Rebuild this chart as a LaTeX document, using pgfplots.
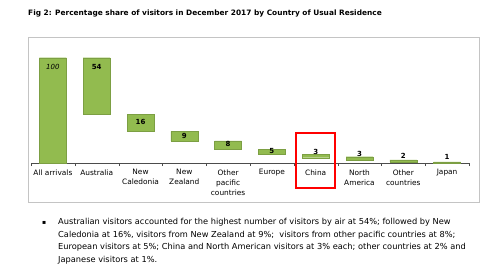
\documentclass[border=0pt]{standalone}
\usepackage{pgfplots}
\pgfplotsset{compat=1.18}
\usepackage{fontspec}
\setmainfont{DejaVu Sans}
\definecolor{barg}{HTML}{92BB4F}
\definecolor{frameg}{HTML}{C4C4C4}
\begin{document}
\begin{tikzpicture}[x=1pt,y=1pt]
\useasboundingbox (0,0) rectangle (500,-277);
\fill[white] (0,0) rectangle (500,-277);
\node[anchor=base west, font=\bfseries\fontsize{7.4}{9}\selectfont, inner sep=0] at (28,-15) {Fig 2: Percentage share of visitors in December 2017 by Country of Usual Residence};
\draw[frameg, line width=1pt] (28,-37) rectangle (479,-202);
\begin{axis}[at={(31pt,-163pt)}, anchor=south west, scale only axis,
  width=438pt, height=105.3pt, xmin=-0.5, xmax=9.5, ymin=0, ymax=100,
  axis x line*=bottom, axis y line=none, clip=false,
  ybar stacked, bar width=27pt,
  xtick={0,...,9}, major tick length=0pt,
  minor xtick={-0.5,0.5,...,9.5}, minor tick length=3pt, tick align=outside,
  ytick=\empty,
  x axis line style={black!70, line width=0.6pt},
  minor tick style={black!70},
  xticklabel style={font=\fontsize{7.4}{10}\selectfont, align=center, yshift=-3pt},
  xticklabels={All arrivals, Australia, {New\\Caledonia}, {New\\Zealand}, {Other\\pacific\\countries}, Europe, China, {North\\America}, {Other\\countries}, Japan},
]
\addplot[draw=none, fill=none] coordinates {(0,0)(1,46)(2,30)(3,21)(4,13)(5,8)(6,5)(7,3)(8,1)(9,0)};
\addplot[fill=barg, draw=barg!85!black, line width=0.3pt] coordinates {(0,100)(1,54)(2,16)(3,9)(4,8)(5,5)(6,3)(7,3)(8,2)(9,1)};
\end{axis}
\begin{axis}[at={(31pt,-163pt)}, anchor=south west, scale only axis,
  width=438pt, height=105.3pt, xmin=-0.5, xmax=9.5, ymin=0, ymax=100,
  hide axis, clip=false]
\addplot[draw=none, mark=none, nodes near coords, point meta=explicit symbolic,
  nodes near coords style={anchor=center, font=\bfseries\fontsize{7}{8}\selectfont, inner sep=0}]
  coordinates {(0,91.2)[\mdseries\itshape 100] (1,91.2)[54] (2,39)[16] (3,25.6)[9] (4,18)[8] (5,11.4)[5] (6,10.4)[3] (7,8.5)[3] (8,6.6)[2] (9,5.7)[1]};
\end{axis}
\draw[red, line width=1.3pt] (296,-133) rectangle (335,-188);
\node[anchor=base west, font=\fontsize{6}{8}\selectfont, inner sep=0] at (42,-224) {▪};
\begin{scope}[every node/.style={anchor=base west, font=\fontsize{8.25}{10}\selectfont, inner sep=0}]
\node at (58,-224.5) {Australian visitors accounted for the highest number of visitors by air at 54\%; followed by New};
\node at (58,-237.2) {Caledonia at 16\%, visitors from New Zealand at 9\%;\ \ visitors from other pacific countries at 8\%;};
\node at (58,-249.9) {European visitors at 5\%; China and North American visitors at 3\% each; other countries at 2\% and};
\node at (58,-262.6) {Japanese visitors at 1\%.};
\end{scope}
\end{tikzpicture}
\end{document}
